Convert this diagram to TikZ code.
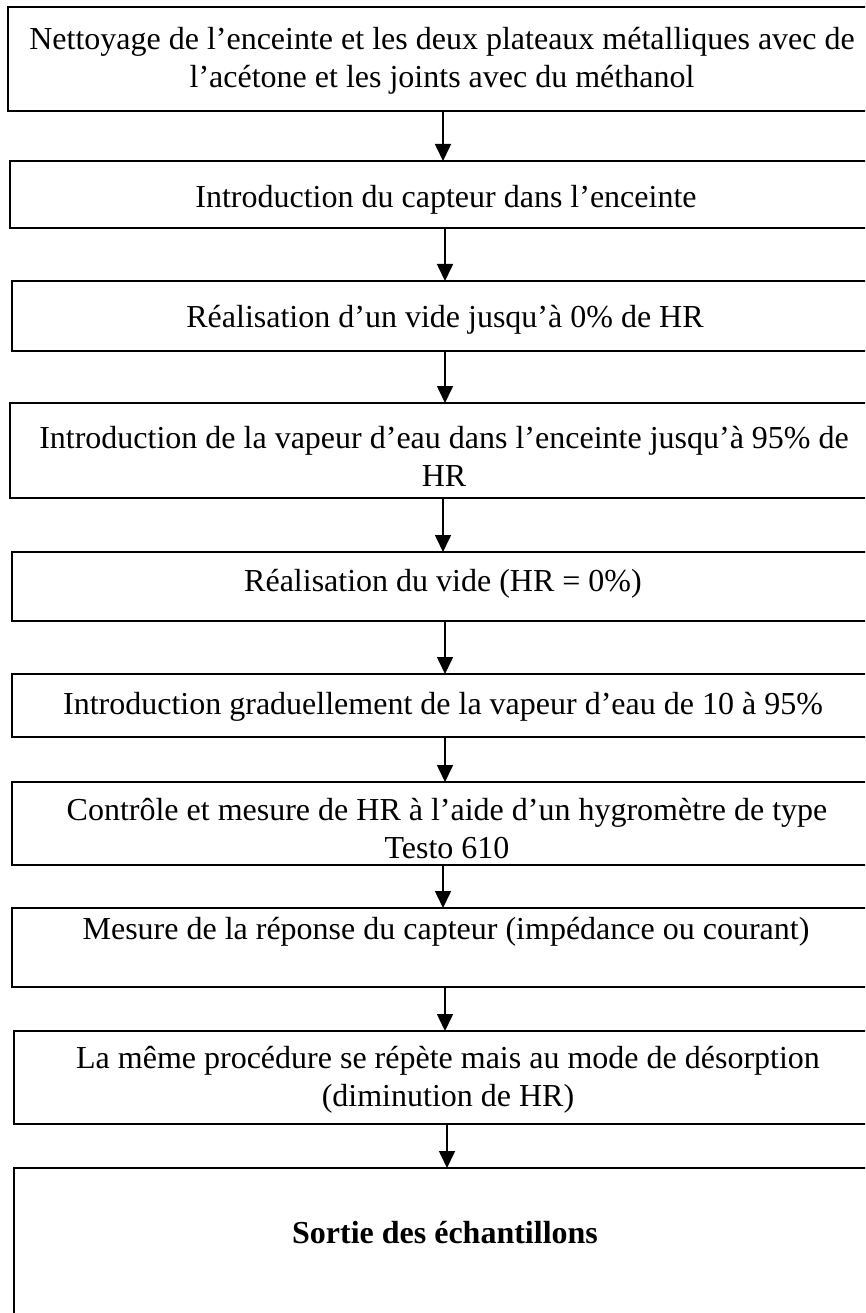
\documentclass[tikz,border=0pt]{standalone}
\usepackage{fontspec}
\setmainfont{Liberation Serif}
\usetikzlibrary{arrows.meta}
\begin{document}
\begin{tikzpicture}[x=1pt,y=-1pt,
  box/.style={draw, line width=1.6pt, anchor=north west, inner sep=0pt, outer sep=0pt},
  txt/.style={anchor=base, inner sep=0pt, align=center, font=\fontsize{32}{38}\selectfont},
  arr/.style={line width=1.6pt, -{Triangle[width=16pt,length=17pt]}}]
\useasboundingbox (0,0) rectangle (865,1313);
\clip (0,0) rectangle (865,1313);
\node[box, minimum width=864pt, minimum height=104pt] (b1) at (8,7) {};
\node[box, minimum width=862pt, minimum height=67pt] (b2) at (10,161) {};
\node[box, minimum width=860pt, minimum height=70pt] (b3) at (12,281) {};
\node[box, minimum width=862pt, minimum height=95pt] (b4) at (10,403) {};
\node[box, minimum width=860pt, minimum height=69pt] (b5) at (12,552) {};
\node[box, minimum width=860pt, minimum height=63pt] (b6) at (12,674) {};
\node[box, minimum width=860pt, minimum height=83pt] (b7) at (12,782) {};
\node[box, minimum width=860pt, minimum height=79pt] (b8) at (12,908) {};
\node[box, minimum width=858pt, minimum height=93pt] (b9) at (14,1031) {};
\node[box, minimum width=858pt, minimum height=170pt] (b10) at (14,1168) {};

% multi-line nodes: base anchor = baseline of the last line
\node[txt] (t1) at (442,88) {Nettoyage de l’enceinte et les deux plateaux métalliques avec de\\l’acétone et les joints avec du méthanol};
\node[txt] (t2) at (446,208) {Introduction du capteur dans l’enceinte};
\node[txt] (t3) at (445,327) {Réalisation d’un vide jusqu’à 0\% de HR};
\node[txt] (t4) at (444,486) {Introduction de la vapeur d’eau dans l’enceinte jusqu’à 95\% de\\HR};
\node[txt] (t5) at (443,591) {Réalisation du vide (HR = 0\%)};
\node[txt] (t6) at (443,714) {Introduction graduellement de la vapeur d’eau de 10 à 95\%};
\node[txt] (t7) at (447,858) {Contrôle et mesure de HR à l’aide d’un hygromètre de type\\Testo 610};
\node[txt] (t8) at (446,939) {Mesure de la réponse du capteur (impédance ou courant)};
\node[txt] (t9) at (448,1106) {La même procédure se répète mais au mode de désorption\\(diminution de HR)};
\node[txt, font=\fontsize{32}{38}\selectfont\bfseries] (t10) at (445,1243) {Sortie des échantillons};

\draw[arr] (b1.south -| 443,0) -- (b2.north -| 443,0);
\draw[arr] (b2.south -| 445,0) -- (b3.north -| 445,0);
\draw[arr] (b3.south -| 445,0) -- (b4.north -| 445,0);
\draw[arr] (b4.south -| 443,0) -- (b5.north -| 443,0);
\draw[arr] (b5.south -| 445,0) -- (b6.north -| 445,0);
\draw[arr] (b6.south -| 445,0) -- (b7.north -| 445,0);
\draw[arr] (b7.south -| 443,0) -- (b8.north -| 443,0);
\draw[arr] (b8.south -| 445,0) -- (b9.north -| 445,0);
\draw[arr] (b9.south -| 447,0) -- (b10.north -| 447,0);
\end{tikzpicture}
\end{document}
